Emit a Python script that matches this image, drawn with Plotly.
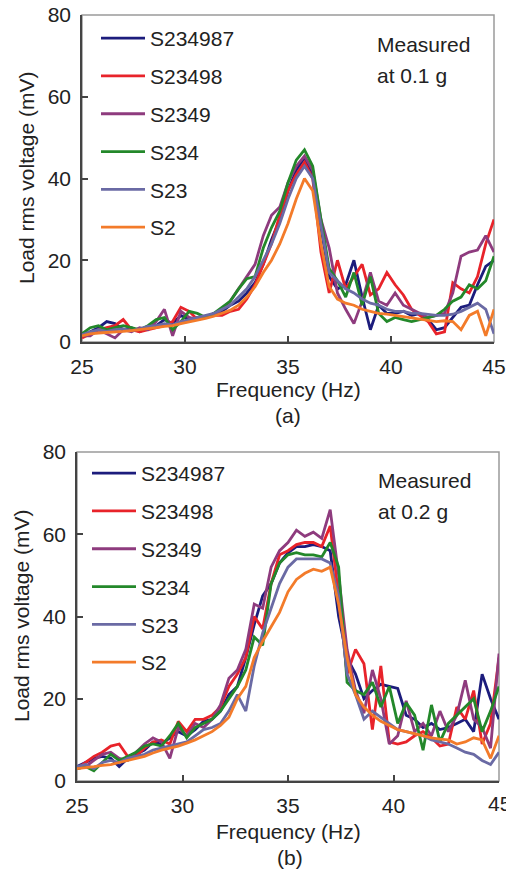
import plotly.graph_objects as go

freq = [25.0, 25.4, 25.8, 26.2, 26.6, 27.0, 27.4, 27.8, 28.2, 28.6,
        29.0, 29.4, 29.8, 30.2, 30.6, 31.0, 31.4, 31.8, 32.2, 32.6,
        33.0, 33.4, 33.8, 34.2, 34.6, 35.0, 35.4, 35.8, 36.2, 36.6,
        37.0, 37.4, 37.8, 38.2, 38.6, 39.0, 39.4, 39.8, 40.2, 40.6,
        41.0, 41.4, 41.8, 42.2, 42.6, 43.0, 43.4, 43.8, 44.2, 44.6, 45.0]

series_names = ["S234987", "S23498", "S2349", "S234", "S23", "S2"]
series_colors = ["#1c1c7c", "#e8232a", "#8e3b7e", "#23882a", "#6a6aa4", "#f37b2a"]

# (a) measured at 0.1 g
a_S234987 = [1.5, 2.5, 3.5, 5.0, 4.5, 3.0, 3.5, 2.5, 3.5, 4.0,
             5.5, 4.5, 6.5, 5.5, 6.0, 6.0, 7.0, 7.5, 9.0, 10.0,
             12.0, 14.5, 19.0, 25.0, 30.0, 37.0, 42.0, 45.0, 41.0, 28.0,
             16.0, 13.0, 14.0, 20.0, 11.0, 3.0, 9.0, 7.0, 7.0, 7.5,
             6.5, 7.0, 5.5, 3.0, 3.5, 6.0, 8.5, 9.0, 14.0, 18.5, 20.0]
a_S23498 = [1.0, 2.0, 3.0, 3.5, 4.0, 5.5, 3.0, 2.5, 3.0, 3.5,
            4.0, 5.0, 8.5, 7.5, 5.5, 6.0, 6.5, 6.5, 7.5, 8.0,
            10.5, 14.0, 19.0, 24.0, 31.0, 37.0, 41.0, 44.0, 40.0, 22.0,
            12.0, 20.0, 13.0, 16.0, 19.0, 11.5, 13.0, 17.0, 14.0, 11.5,
            8.0, 6.5, 5.0, 2.0, 2.5, 14.5, 13.0, 12.0, 16.0, 24.0, 30.0]
a_S2349 = [1.5, 1.5, 3.0, 2.0, 1.0, 3.0, 2.5, 3.5, 3.0, 5.0,
           8.0, 1.5, 7.5, 6.0, 5.5, 6.0, 6.5, 8.0, 10.0, 13.0,
           16.0, 19.0, 26.0, 31.0, 33.0, 39.0, 43.0, 45.5, 42.0, 30.0,
           23.0, 12.0, 8.0, 4.5, 10.0, 17.0, 10.0, 9.0, 12.0, 9.0,
           8.0, 7.0, 6.0, 6.5, 7.0, 12.0, 21.0, 22.0, 22.5, 26.0, 22.0]
a_S234 = [2.0, 3.5, 4.0, 3.0, 3.5, 4.0, 3.5, 3.0, 4.0, 5.5,
          6.0, 3.0, 5.0, 7.5, 7.0, 6.0, 7.0, 8.5, 10.0, 13.0,
          15.5, 16.0, 23.0, 28.0, 32.0, 39.0, 44.5, 47.0, 43.0, 30.0,
          18.0, 15.0, 11.0, 17.0, 9.0, 16.0, 7.0, 5.0, 6.0, 5.5,
          5.0, 5.5, 6.0, 6.5, 8.0, 10.0, 11.0, 14.0, 13.0, 15.0, 21.0]
a_S23 = [1.8, 2.5, 3.0, 2.6, 3.0, 3.2, 2.8, 3.2, 3.8, 4.0,
         4.5, 4.2, 5.0, 5.5, 6.0, 6.5, 7.0, 8.0, 9.0, 11.0,
         13.0, 16.0, 20.0, 24.0, 29.0, 35.0, 40.0, 43.0, 40.0, 28.0,
         17.0, 15.0, 13.0, 12.0, 10.5, 9.5, 9.0, 8.0, 7.5, 7.5,
         7.0, 7.0, 6.8, 6.5, 6.5, 6.8, 7.5, 8.5, 9.5, 8.0, 2.0]
a_S2 = [1.5, 2.0, 2.2, 2.3, 2.5, 2.6, 2.8, 3.0, 3.2, 3.5,
        3.8, 4.0, 4.5, 4.9, 5.3, 5.8, 6.3, 7.0, 7.8, 9.0,
        11.0, 13.5, 17.0, 20.0, 24.0, 29.0, 35.0, 40.0, 37.0, 24.0,
        13.5, 10.5, 9.5, 9.0, 8.0, 7.5, 7.0, 6.8, 6.5, 6.2,
        6.0, 5.6, 5.3, 5.0, 5.2, 5.0, 3.0, 6.5, 7.5, 1.5, 8.0]

# (b) measured at 0.2 g
b_S234987 = [3.5, 4.5, 5.5, 6.0, 5.5, 3.5, 5.5, 6.5, 7.5, 9.5,
             9.0, 10.5, 12.0, 11.0, 12.5, 14.5, 15.0, 17.0, 21.0, 23.0,
             30.0, 38.0, 45.0, 48.0, 53.0, 55.5, 57.0, 57.0, 57.5, 57.0,
             56.0, 40.0, 30.0, 26.0, 20.0, 22.0, 23.5, 23.0, 22.5, 16.0,
             15.0, 13.0, 14.0, 12.5, 13.0, 14.0, 15.0, 12.0, 26.0, 20.0, 15.0]
b_S23498 = [3.0, 4.5, 6.0, 7.0, 8.5, 9.0, 6.0, 6.0, 8.0, 9.5,
            10.0, 9.0, 14.5, 12.0, 15.0, 15.0, 16.0, 18.0, 23.0, 26.0,
            30.0, 40.0, 37.0, 48.0, 55.0, 56.0, 57.5, 58.0, 58.0, 57.0,
            62.0, 45.0, 26.0, 32.0, 28.5, 12.5, 28.0, 9.5, 9.0, 9.5,
            11.0, 12.0, 10.5, 8.5, 9.0, 18.0, 15.0, 22.0, 9.0, 14.0, 30.0]
b_S2349 = [3.0, 3.5, 5.0, 6.5, 7.0, 5.5, 5.0, 7.0, 9.0, 10.5,
           9.5, 5.5, 13.0, 11.0, 14.0, 13.0, 15.0, 18.5, 25.0, 27.0,
           32.0, 43.0, 42.0, 52.0, 56.0, 58.0, 61.0, 59.5, 60.5, 59.0,
           66.0, 50.0, 32.0, 22.0, 16.5, 27.0, 20.0, 9.0, 11.0, 19.5,
           12.0, 14.0, 11.0, 17.0, 12.0, 16.0, 24.5, 15.0, 13.0, 8.0, 31.0]
b_S234 = [3.0, 3.5, 2.5, 4.5, 6.5, 5.0, 6.0, 7.0, 8.5, 9.0,
          8.5, 11.0, 14.0, 10.5, 13.0, 14.0, 15.0, 17.0, 20.0, 23.0,
          27.0, 35.0, 33.0, 48.0, 53.0, 55.0, 55.5, 55.0, 55.0, 54.5,
          58.0, 52.0, 24.0, 22.0, 21.0, 24.0, 18.0, 23.0, 14.0, 19.0,
          16.0, 7.5, 18.5, 9.5, 14.0, 16.0, 18.0, 20.0, 12.0, 17.0, 23.0]
b_S23 = [3.5, 4.0, 3.0, 4.5, 5.0, 4.5, 5.5, 6.0, 6.5, 7.5,
         8.0, 8.5, 9.0, 9.5, 11.0, 12.5, 13.0, 14.0, 17.0, 21.0,
         17.0, 28.0, 36.0, 42.0, 48.0, 52.0, 54.0, 54.0, 54.0, 54.0,
         53.0, 45.0, 26.0, 21.0, 15.0, 17.0, 15.5, 14.0, 12.5, 12.0,
         11.5, 11.0, 10.0, 9.5, 9.0, 8.0, 7.0, 6.5, 5.0, 4.0, 7.0]
b_S2 = [3.0, 3.2, 3.5, 3.8, 4.0, 4.5, 5.0, 5.5, 6.0, 6.8,
        7.5, 8.0, 8.5, 9.2, 10.0, 11.0, 12.0, 13.5, 15.5, 20.0,
        23.0, 30.0, 34.0, 37.5, 41.0, 46.0, 49.0, 50.5, 51.5, 51.0,
        52.0, 43.0, 30.0, 21.0, 18.0, 16.0, 14.5, 13.5, 12.5, 12.0,
        11.5, 11.0, 10.5, 10.2, 10.0, 9.0, 9.5, 10.5, 10.0, 5.5, 11.0]

panel_a = [a_S234987, a_S23498, a_S2349, a_S234, a_S23, a_S2]
panel_b = [b_S234987, b_S23498, b_S2349, b_S234, b_S23, b_S2]

x_ticks = [25, 30, 35, 40, 45]
y_ticks = [0, 20, 40, 60, 80]

FONT = "Liberation Sans, Arial, sans-serif"
W, H = 506, 870

fig = go.Figure()

for i, (name, col) in enumerate(zip(series_names, series_colors)):
    fig.add_trace(go.Scatter(x=freq, y=panel_a[i], mode="lines", name=name,
                             line=dict(color=col, width=2.8),
                             xaxis="x", yaxis="y", legend="legend",
                             legendgroup="a" + name))
for i, (name, col) in enumerate(zip(series_names, series_colors)):
    fig.add_trace(go.Scatter(x=freq, y=panel_b[i], mode="lines", name=name,
                             line=dict(color=col, width=2.8),
                             xaxis="x2", yaxis="y2", legend="legend2",
                             legendgroup="b" + name))

def px_x(p):
    return p / W

def px_y(p):
    return 1 - p / H

axis_common = dict(showgrid=False, zeroline=False, showline=True, automargin=False,
                   linecolor="#444", linewidth=1.5, ticks="inside",
                   ticklen=6, tickwidth=1.5, tickcolor="#444",
                   tickfont=dict(family=FONT, size=21, color="#222"))

fig.update_layout(
    width=W, height=H,
    margin=dict(l=0, r=0, t=0, b=0, autoexpand=False),
    paper_bgcolor="white", plot_bgcolor="white",
    showlegend=True,
    xaxis=dict(domain=[px_x(82), px_x(494)], range=[25, 45], tickvals=x_ticks,
               anchor="y", ticklabelstandoff=5, **axis_common),
    yaxis=dict(domain=[px_y(342), px_y(15)], range=[0, 80], tickvals=y_ticks,
               anchor="x", ticklabelstandoff=5, **axis_common),
    xaxis2=dict(domain=[px_x(77), px_x(499)], range=[25, 45], tickvals=x_ticks,
                anchor="y2", ticklabelstandoff=5, **axis_common),
    yaxis2=dict(domain=[px_y(781), px_y(452)], range=[0, 80], tickvals=y_ticks,
                anchor="x2", ticklabelstandoff=5, **axis_common),
    legend=dict(x=px_x(96), y=px_y(18), xanchor="left", yanchor="top",
                bgcolor="rgba(0,0,0,0)", tracegroupgap=7.5, itemwidth=44,
                font=dict(family=FONT, size=21, color="#222")),
    legend2=dict(x=px_x(87), y=px_y(453), xanchor="left", yanchor="top",
                 bgcolor="rgba(0,0,0,0)", tracegroupgap=7.5, itemwidth=44,
                 font=dict(family=FONT, size=21, color="#222")),
)

# light frame on top/right
for xr, yr in (("x domain", "y domain"), ("x2 domain", "y2 domain")):
    fig.add_shape(type="rect", xref=xr, yref=yr, x0=0, x1=1, y0=0, y1=1,
                  line=dict(color="#9a9a9a", width=1.5), layer="below")

def ann(text, x, y, size=21, angle=0, xanchor="center"):
    fig.add_annotation(text=text, x=px_x(x), y=px_y(y), xref="paper", yref="paper",
                       showarrow=False, textangle=angle, xanchor=xanchor, yanchor="middle",
                       font=dict(family=FONT, size=size, color="#222"))

ann("Frequency (Hz)", 288, 389)
ann("(a)", 288, 415)
ann("Load rms voltage (mV)", 26, 178, angle=-90)
ann("Measured", 375, 44, xanchor="left")
ann("at 0.1 g", 375, 75, xanchor="left")

ann("Frequency (Hz)", 288, 831)
ann("(b)", 290, 857)
ann("Load rms voltage (mV)", 21, 616, angle=-90)
ann("Measured", 376, 481, xanchor="left")
ann("at 0.2 g", 376, 511, xanchor="left")
# last tick label of the lower axis, cut by the page edge as in the original
fig.add_annotation(text="45", x=45, y=0, xref="x2", yref="paper", yshift=px_y(803) * H,
                   showarrow=False, xanchor="center", yanchor="middle",
                   font=dict(family=FONT, size=21, color="#222"))

fig.write_html("out.html", config={"displayModeBar": False},
               post_script="document.body.style.margin='0';document.body.style.overflow='hidden';")
